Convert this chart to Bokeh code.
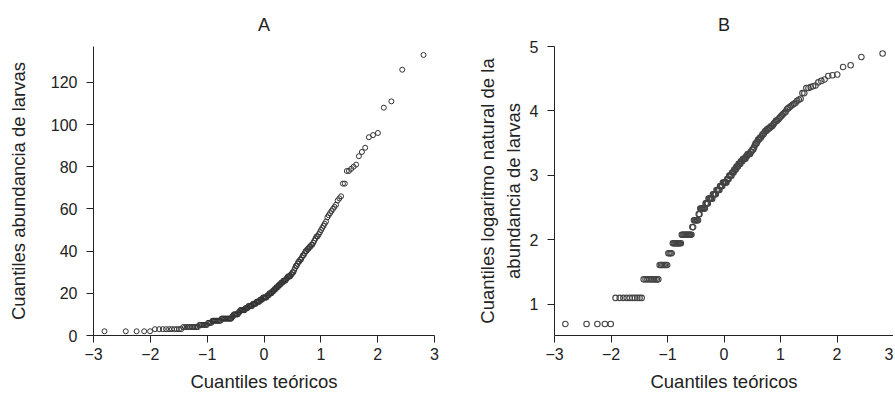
from statistics import NormalDist
import numpy as np
from bokeh.plotting import figure
from bokeh.layouts import row
from bokeh.models import FixedTicker, Range1d, ColumnDataSource
from bokeh.embed import file_html
from bokeh.resources import INLINE

# Sorted larval abundance values
abundancia = [
    2, 2, 2, 2, 2,
    3, 3, 3, 3, 3, 3, 3, 3, 3, 3,
    4, 4, 4, 4, 4, 4, 4, 4, 4, 4,
    5, 5, 5, 5, 5, 5, 5,
    6, 6, 6, 6,
    7, 7, 7, 7, 7, 7, 7, 7, 7,
    8, 8, 8, 8, 8, 8, 8, 8, 8, 8, 8, 8,
    9, 9,
    10, 10, 10, 10, 10, 10,
    11, 11,
    12, 12, 12, 12, 12, 12, 12,
    13, 13, 13, 13,
    14, 14, 14, 14, 14, 14,
    15, 15, 15, 15, 15,
    16, 16, 16, 16, 16,
    17, 17, 17, 17,
    18, 18, 18, 18, 18, 18,
    19, 19, 19,
    20, 20, 20, 20,
    21, 21, 21,
    22, 22, 22,
    23, 23, 23,
    24, 24, 24,
    25, 25, 25,
    26, 26, 26, 26,
    27, 27,
    28, 28, 28, 28,
    29, 29,
    30, 30,
    31, 32, 33, 33, 34, 35, 35, 36, 36, 37,
    38, 38, 39, 40, 40, 41, 41, 42, 42, 43,
    43, 44, 45, 46, 47, 47, 48, 49, 50, 51,
    52, 53, 54, 56, 57, 58, 59, 60, 61, 62,
    64, 65, 66, 72, 72, 78, 78, 79, 80, 81,
    85, 87, 89, 94, 95, 96, 108, 111, 126, 133,
]

x_ticks = [-3, -2, -1, 0, 1, 2, 3]
x_tick_labels = ["\u22123", "\u22122", "\u22121", "0", "1", "2", "3"]
y_ticks_a = [0, 20, 40, 60, 80, 100, 120]
y_ticks_b = [1, 2, 3, 4, 5]

titulo_a = "A"
titulo_b = "B"
eje_x = "Cuantiles te\u00f3ricos"
eje_y_a = "Cuantiles abundancia de larvas"
eje_y_b = "Cuantiles logaritmo natural de la\nabundancia de larvas"

n = len(abundancia)
cuantiles = [NormalDist().inv_cdf((i + 0.5) / n) for i in range(n)]
src = ColumnDataSource(dict(q=cuantiles, a=abundancia, b=np.log(abundancia)))

FONT = "Liberation Sans"


def style(p, yticks):
    p.xaxis.ticker = FixedTicker(ticks=x_ticks)
    p.xaxis.major_label_overrides = {t: l for t, l in zip(x_ticks, x_tick_labels)}
    p.yaxis.ticker = FixedTicker(ticks=yticks)
    for ax in (p.xaxis[0], p.yaxis[0]):
        ax.axis_line_color = "#222222"
        ax.axis_line_width = 1
        ax.major_tick_line_color = "#222222"
        ax.major_tick_out = 7
        ax.major_tick_in = 0
        ax.minor_tick_out = 0
        ax.minor_tick_in = 0
        ax.major_label_text_font = FONT
        ax.major_label_text_font_size = "16px"
        ax.major_label_text_color = "#222222"
        ax.axis_label_text_font = FONT
        ax.axis_label_text_font_size = "18.5px"
        ax.axis_label_text_font_style = "normal"
        ax.axis_label_text_color = "#222222"
    p.xaxis.major_label_standoff = 5
    p.yaxis.major_label_standoff = 9
    p.xaxis.axis_label_standoff = 8
    p.xgrid.visible = False
    p.ygrid.visible = False
    p.outline_line_color = None
    p.title.align = "center"
    p.title.text_font = FONT
    p.title.text_font_size = "18px"
    p.title.text_font_style = "normal"
    p.title.text_color = "#222222"
    p.title.standoff = 24


pa = figure(frame_width=341, frame_height=289, min_border_left=93, min_border_right=20,
            min_border_top=46, min_border_bottom=58,
            x_range=Range1d(-3, 3), y_range=Range1d(0, 137),
            output_backend="svg", toolbar_location=None, title=titulo_a,
            x_axis_label=eje_x, y_axis_label=eje_y_a)
style(pa, y_ticks_a)
pa.yaxis.axis_label_standoff = 19
pa.scatter("q", "a", source=src, marker="circle", size=5, fill_alpha=0,
           line_color="#333333", line_width=1)

pb = figure(frame_width=339, frame_height=289, min_border_left=100, min_border_right=0,
            min_border_top=46, min_border_bottom=58,
            x_range=Range1d(-3, 3), y_range=Range1d(0.515, 5.0),
            output_backend="svg", toolbar_location=None, title=titulo_b,
            x_axis_label=eje_x, y_axis_label=eje_y_b)
style(pb, y_ticks_b)
pb.yaxis.axis_label_standoff = 3
pb.scatter("q", "b", source=src, marker="circle", size=5.5, fill_alpha=0,
           line_color="#444444", line_width=1.1)

layout = row(pa, pb)
open("out.html", "w").write(file_html(layout, INLINE))
